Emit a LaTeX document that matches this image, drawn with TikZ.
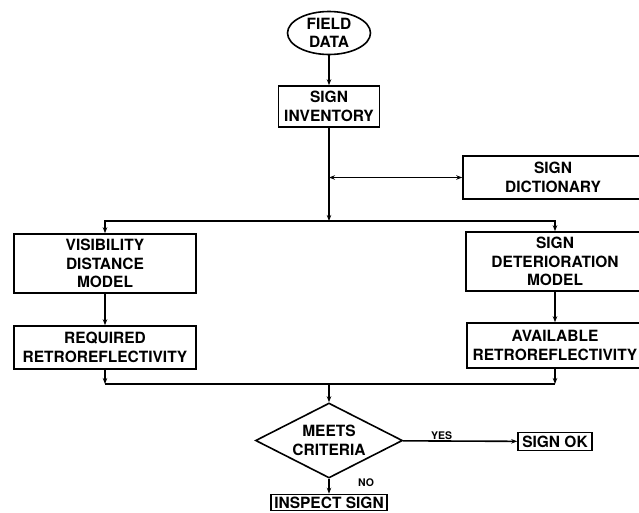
\documentclass[tikz,border=0pt]{standalone}
\usepackage{fontspec}
\setmainfont{TeX Gyre Heros}
\usetikzlibrary{shapes.geometric,arrows.meta}

\newcommand*{\lcol}{105}
\newcommand*{\mcol}{329}
\newcommand*{\rcol}{555}
\newcommand*{\boxfont}{\fontsize{15.5}{18.5}\selectfont\bfseries}
\newcommand*{\tagfont}{\fontsize{10.5}{12}\selectfont\bfseries}

\begin{document}
\begin{tikzpicture}
[
	x=1pt,y=-1pt,
	line width=1.6pt,
	>={Stealth[length=6pt,width=4.5pt]},
	block/.style={rectangle,draw,align=center,inner sep=0pt,font=\boxfont},
	terminal/.style={ellipse,draw,align=center,inner sep=0pt,font=\boxfont,minimum width=83,minimum height=43},
	decision/.style={diamond,draw,align=center,inner sep=0pt,aspect=2,font=\boxfont,minimum width=147,minimum height=75},
	tag/.style={inner sep=1pt,font=\tagfont}
]

	\useasboundingbox (0,0) rectangle (639,512);

	% top
	\node[terminal] (data) at (\mcol,33) {FIELD\\DATA};
	\node[block,minimum width=101,minimum height=41] (inventory) at (\mcol,106.5) {SIGN\\INVENTORY};
	\node[block,minimum width=180,minimum height=43] (dictionary) at (553,177.5) {SIGN\\DICTIONARY};
	\draw[->] (data) -- (inventory);

	% split
	\coordinate (split) at (\mcol,221);
	\coordinate (tap) at (inventory |- dictionary);
	\draw[->] (inventory) -- (split);
	\draw[<->] (tap) -- (dictionary);

	% left column
	\node[block,minimum width=182,minimum height=59] (visibility) at (\lcol,263.5) {VISIBILITY\\DISTANCE\\MODEL};
	\node[block,minimum width=182,minimum height=43] (required) at (\lcol,347.5) {REQUIRED\\RETROREFLECTIVITY};
	\draw[->] (split) -| (visibility);
	\draw[->] (visibility) -- (required);

	% right column
	\node[block,minimum width=178,minimum height=59] (deterioration) at (\rcol,261.5) {SIGN\\DETERIORATION\\MODEL};
	\node[block,minimum width=176,minimum height=45] (available) at (\rcol,345.5) {AVAILABLE\\RETROREFLECTIVITY};
	\draw[->] (split) -| (deterioration);
	\draw[->] (deterioration) -- (available);

	% join
	\coordinate (lfoot) at (\lcol,384);
	\coordinate (rfoot) at (\rcol,384);
	\coordinate (join) at (\mcol,384);
	\draw[->] (required) -- (lfoot);
	\draw[->] (available) -- (rfoot);
	\draw (lfoot) -- (rfoot);

	% decision
	\node[decision] (criteria) at (\mcol,440.5) {MEETS\\CRITERIA};
	\node[block,minimum width=74,minimum height=18] (ok) at (\rcol,441.5) {SIGN OK};
	\node[block,minimum width=116,minimum height=16] (inspect) at (\mcol,502.5) {INSPECT SIGN};
	\draw[->] (join) -- (criteria);
	\draw[->] (criteria) -- (ok) node[tag,pos=0.34,above] (yes) {YES};
	\draw[->] (criteria) -- (inspect);
	\node[tag] (no) at (366,483) {NO};

\end{tikzpicture}
\end{document}
